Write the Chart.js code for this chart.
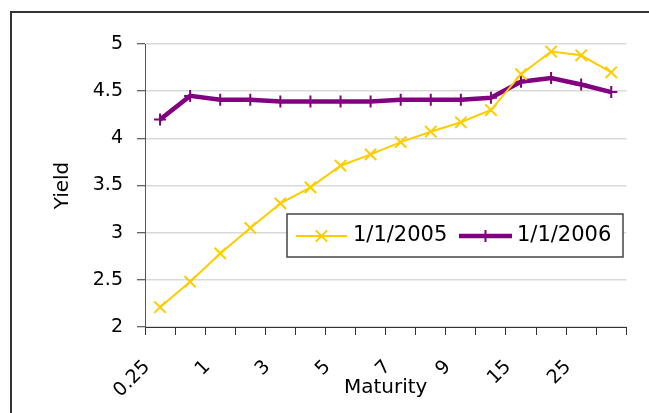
<!DOCTYPE html>
<html>
<head>
<meta charset="utf-8">
<script src="https://cdn.jsdelivr.net/npm/chart.js@4/dist/chart.umd.min.js"></script>
<style>
  html, body { margin: 0; padding: 0; background: #ffffff; }
  #wrap { width: 649px; height: 413px; position: relative; }
</style>
</head>
<body>
<div id="wrap"><canvas id="c" width="649" height="413"></canvas></div>
<script>
// ---- data ----
const maturities = ['0.25', '0.5', '1', '2', '3', '4', '5', '6', '7', '8', '9', '10', '15', '20', '25', '30'];
const yield2005 = [2.21, 2.48, 2.78, 3.05, 3.31, 3.48, 3.71, 3.83, 3.96, 4.07, 4.17, 4.30, 4.68, 4.92, 4.88, 4.70];
const yield2006 = [4.20, 4.45, 4.41, 4.41, 4.39, 4.39, 4.39, 4.39, 4.41, 4.41, 4.41, 4.43, 4.60, 4.64, 4.57, 4.49];
const seriesNames = ['1/1/2005', '1/1/2006'];
const yTicks = { min: 2, max: 5, step: 0.5 };

const YELLOW = '#FFCC00';
const PURPLE = '#800080';
const FONT = "'DejaVu Sans', sans-serif";

// Outer frame (Excel chart border)
const framePlugin = {
  id: 'frame',
  beforeDraw(chart) {
    const ctx = chart.ctx;
    ctx.save();
    ctx.fillStyle = '#ffffff';
    ctx.fillRect(0, 0, chart.width, chart.height);
    ctx.strokeStyle = '#333333';
    ctx.lineWidth = 2;
    ctx.strokeRect(11, 12, chart.width + 20, chart.height + 20);
    ctx.restore();
  }
};

// Legend boxed inside the plot area
const boxLegendPlugin = {
  id: 'boxLegend',
  afterDatasetsDraw(chart) {
    const ctx = chart.ctx;
    const box = { x: 287, y: 214, w: 336, h: 43 };
    ctx.save();
    ctx.fillStyle = '#ffffff';
    ctx.fillRect(box.x, box.y, box.w, box.h);
    ctx.strokeStyle = '#444444';
    ctx.lineWidth = 1.5;
    ctx.strokeRect(box.x, box.y, box.w, box.h);
    const items = [
      { x0: 296, x1: 347, tx: 353 },
      { x0: 459, x1: 512, tx: 517 }
    ];
    const cy = 236;
    chart.data.datasets.forEach((ds, i) => {
      const it = items[i];
      ctx.strokeStyle = ds.borderColor;
      ctx.lineWidth = ds.borderWidth;
      ctx.beginPath();
      ctx.moveTo(it.x0, cy);
      ctx.lineTo(it.x1, cy);
      ctx.stroke();
      ctx.lineWidth = ds.pointBorderWidth;
      ctx.fillStyle = ds.borderColor;
      Chart.helpers.drawPoint(ctx, {
        pointStyle: ds.pointStyle, radius: ds.pointRadius, rotation: 0, borderWidth: ds.pointBorderWidth
      }, (it.x0 + it.x1) / 2, cy);
      ctx.fillStyle = '#000000';
      ctx.font = '21px ' + FONT;
      ctx.textAlign = 'left';
      ctx.textBaseline = 'alphabetic';
      ctx.fillText(ds.label, it.tx, 241);
    });
    ctx.restore();
  }
};

new Chart(document.getElementById('c'), {
  type: 'line',
  data: {
    labels: maturities,
    datasets: [
      {
        label: seriesNames[0],
        data: yield2005,
        borderColor: YELLOW,
        backgroundColor: YELLOW,
        borderWidth: 2,
        pointStyle: 'crossRot',
        pointRadius: 8,
        pointBorderWidth: 2,
        pointBorderColor: YELLOW,
        tension: 0
      },
      {
        label: seriesNames[1],
        data: yield2006,
        borderColor: PURPLE,
        backgroundColor: PURPLE,
        borderWidth: 4.5,
        pointStyle: 'cross',
        pointRadius: 6,
        pointBorderWidth: 2,
        pointBorderColor: PURPLE,
        tension: 0
      }
    ]
  },
  options: {
    responsive: false,
    animation: false,
    layout: { padding: { left: 51, right: 20, top: 44, bottom: 13 } },
    plugins: {
      legend: { display: false },
      tooltip: { enabled: false }
    },
    scales: {
      x: {
        type: 'category',
        offset: true,
        grid: {
          display: true,
          offset: true,
          drawOnChartArea: false,
          drawTicks: true,
          tickLength: 8,
          color: '#333333',
          tickColor: '#333333'
        },
        border: { display: true, color: '#333333', width: 1 },
        ticks: {
          autoSkip: false,
          maxRotation: 45,
          minRotation: 45,
          padding: 21,
          labelOffset: -13,
          color: '#000000',
          font: { family: FONT, size: 19 },
          callback: function (value, index) {
            return index % 2 === 0 ? maturities[index] : '';
          }
        },
        title: {
          display: true,
          text: 'Maturity',
          color: '#000000',
          font: { family: FONT, size: 20 },
          padding: { top: 0, bottom: 0 }
        },
        afterFit(scale) { scale.height = 73; }
      },
      y: {
        min: yTicks.min,
        max: yTicks.max,
        ticks: {
          stepSize: yTicks.step,
          padding: 14,
          color: '#000000',
          font: { family: FONT, size: 19 },
          callback: function (value) { return String(value); }
        },
        grid: {
          color: '#d9d9d9',
          lineWidth: 1.5,
          tickLength: 8,
          tickColor: '#333333',
          tickWidth: 1
        },
        border: { display: true, color: '#555555', width: 1 },
        title: {
          display: true,
          text: 'Yield',
          color: '#000000',
          font: { family: FONT, size: 20 },
          padding: { top: 0, bottom: 0 }
        },
        afterFit(scale) { scale.width = 94; }
      }
    }
  },
  plugins: [framePlugin, boxLegendPlugin]
});
</script>
</body>
</html>
